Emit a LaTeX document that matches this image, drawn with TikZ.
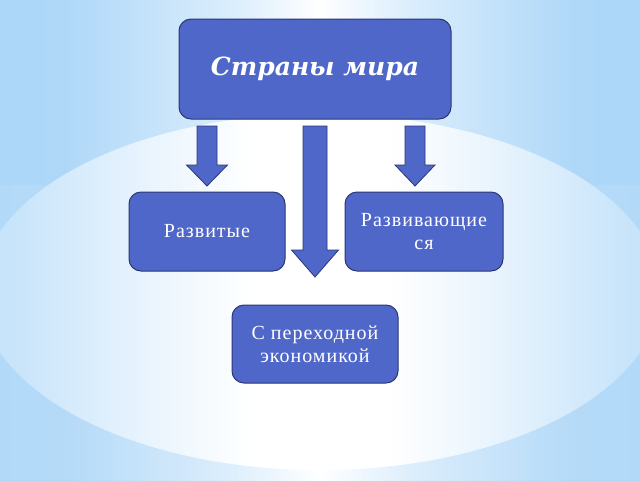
\documentclass[tikz,border=0pt]{standalone}
\usepackage{fontspec}
\setmainfont{Liberation Serif}[LetterSpace=5]
\newfontfamily\titlefont{DejaVu Serif}
\definecolor{bgblue}{HTML}{A3D2F7}
\definecolor{boxfill}{HTML}{4F67C9}
\definecolor{boxline}{HTML}{2B3775}
\pgfdeclarehorizontalshading{baseband}{100bp}{color(0bp)=(bgblue); color(30bp)=(bgblue!88!white); color(43bp)=(bgblue!40!white); color(50bp)=(white); color(57bp)=(bgblue!40!white); color(70bp)=(bgblue!88!white); color(100bp)=(bgblue)}
\pgfdeclarehorizontalshading{glow}{100bp}{color(0bp)=(bgblue!97!white); color(15bp)=(bgblue!85!white); color(28bp)=(bgblue!58!white); color(38bp)=(bgblue!22!white); color(45bp)=(white); color(55bp)=(white); color(62bp)=(bgblue!22!white); color(72bp)=(bgblue!58!white); color(85bp)=(bgblue!85!white); color(100bp)=(bgblue!97!white)}
\tikzset{
  box/.style={draw=boxline, line width=1pt, fill=boxfill, rounded corners=12pt, text=white, align=center, inner sep=2pt},
  bodytext/.style={font=\fontsize{20}{23}\selectfont},
  blockarr/.style={draw=boxline, line width=0.8pt, fill=boxfill, line join=miter}
}
\newcommand\blockarrow[6]{% x, top, headbase, tip, shaft half-width, head half-width
  \draw[blockarr] (#1-#5,#2) -- (#1+#5,#2) -- (#1+#5,#3) -- (#1+#6,#3) -- (#1,#4) -- (#1-#6,#3) -- (#1-#5,#3) -- cycle;}
\begin{document}
\begin{tikzpicture}[x=1pt,y=-1pt]
\useasboundingbox (0,0) rectangle (640,480);
% background
\shade[shading=baseband] (0,0) rectangle (640,480);
\fill[white, opacity=0.08] (0,185) rectangle (640,480);
\begin{scope}
  \clip (320,292) ellipse [x radius=340, y radius=178];
  \shade[shading=glow] (-20,100) rectangle (660,480);
\end{scope}
% nodes
\node[box, minimum width=272pt, minimum height=100pt, font=\titlefont\bfseries\itshape\fontsize{25}{30}\selectfont] (top) at (315,69) {Страны мира};
\node[box, bodytext, minimum width=156pt, minimum height=79pt] (dev) at (207,231.5) {Развитые};
\node[box, bodytext, minimum width=158pt, minimum height=79pt] (devg) at (424,231.5) {Развивающие\\ся};
\node[box, bodytext, minimum width=166pt, minimum height=78pt] (trans) at (315,344) {С переходной\\экономикой};
% block arrows
\blockarrow{207}{126}{165}{186}{10}{20.5}
\blockarrow{315}{126}{250}{277}{12}{23.5}
\blockarrow{415}{126}{165}{186}{10}{20}
\end{tikzpicture}
\end{document}
